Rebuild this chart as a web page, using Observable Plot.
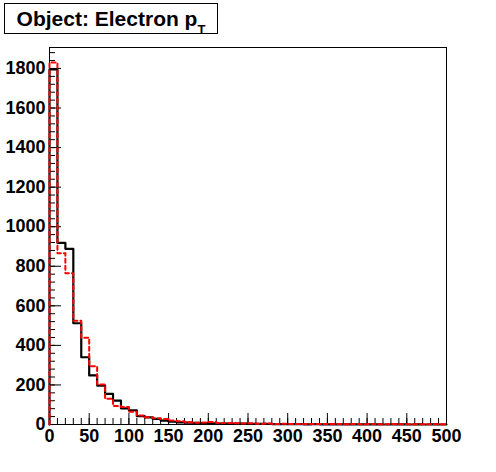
<!DOCTYPE html>
<html><head><meta charset="utf-8">
<script src="https://cdn.jsdelivr.net/npm/d3@7"></script>
<script src="https://cdn.jsdelivr.net/npm/@observablehq/plot@0.6"></script>
<style>
body{margin:0;background:#fff;}
#wrap{position:relative;width:496px;height:472px;}
#title{position:absolute;left:4px;top:3px;width:212px;height:29px;border:1px solid #000;background:#fff;
  font:bold 21px "Liberation Sans",Arial,sans-serif;text-align:center;line-height:29px;color:#000;white-space:nowrap;}
#title span{font-size:13px;position:relative;top:8px;}
</style></head><body>
<div id="wrap"><div id="title">Object: Electron p<span>T</span></div></div>
<script>
// bin lower edges (GeV), 10 GeV bins
const binLow = [0,10,20,30,40,50,60,70,80,90,100,110,120,130,140,150,160,170,180,190,
  200,210,220,230,240,250,260,270,280,290,300,310,320,330,340,350,360,370,380,390,
  400,410,420,430,440,450,460,470,480,490];
const xMax = 500;
// black solid histogram
const blackCounts = [1795,918,888,512,340,248,197,155,121,82,72,42,36,28,20,
  14,11,9,8,7,6,5,5,4,4,3,3,3,2,2,2,2,1,2,1,1,1,1,1,1,1,1,0,1,1,0,1,0,1,0];
// red dashed histogram
const redCounts = [1830,866,765,525,438,295,202,130,93,88,64,45,37,32,28,
  20,17,11,9,10,13,7,8,6,5,6,4,5,3,4,3,3,2,2,2,3,2,1,2,1,2,1,1,2,1,1,1,1,1,1];
const xMajorTicks = [0,50,100,150,200,250,300,350,400,450,500];
const xMinorTicks = [0,10,20,30,40,50,60,70,80,90,100,110,120,130,140,150,160,170,180,190,200,
  210,220,230,240,250,260,270,280,290,300,310,320,330,340,350,360,370,380,390,400,
  410,420,430,440,450,460,470,480,490,500];
const yMajorTicks = [0,200,400,600,800,1000,1200,1400,1600,1800];
const yMinorTicks = [0,40,80,120,160,200,240,280,320,360,400,440,480,520,560,600,640,680,720,760,800,
  840,880,920,960,1000,1040,1080,1120,1160,1200,1240,1280,1320,1360,1400,1440,1480,1520,1560,1600,
  1640,1680,1720,1760,1800,1840,1880];
const yMax = 1906;

function steps(counts) {
  const pts = [{x: binLow[0], y: 0}];
  binLow.forEach((b, i) => pts.push({x: b, y: counts[i]}));
  pts.push({x: xMax, y: counts[counts.length - 1]});
  return pts;
}

const plot = Plot.plot({
  width: 496, height: 472,
  marginLeft: 49, marginRight: 50, marginTop: 47, marginBottom: 48,
  x: {domain: [0, xMax], label: null},
  y: {domain: [0, yMax], label: null},
  style: {fontFamily: "'Liberation Sans', Arial, sans-serif", fontSize: "18px", fontWeight: "bold", color: "#000", background: "transparent"},
  marks: [
    Plot.frame({stroke: "#000", strokeWidth: 1}),
    Plot.axisY(yMinorTicks, {tickSize: -6, fill: "none", label: null}),
    Plot.axisY(yMajorTicks, {tickSize: -12, tickPadding: 16, tickFormat: d => String(d), label: null, fontSize: 18}),
    Plot.axisX(xMinorTicks, {tickSize: -6, fill: "none", label: null}),
    Plot.axisX(xMajorTicks, {tickSize: -11, tickPadding: 16, tickFormat: d => String(d), label: null, fontSize: 18}),
    Plot.line(steps(blackCounts), {x: "x", y: "y", curve: "step-after", stroke: "#000", strokeWidth: 2.2}),
    Plot.line(steps(redCounts), {x: "x", y: "y", curve: "step-after", stroke: "#ff0000", strokeWidth: 2, strokeDasharray: "4,3"})
  ]
});
document.getElementById("wrap").prepend(plot);
plot.style.position = "absolute";
plot.style.left = "0px";
plot.style.top = "0px";
</script>
</body></html>
